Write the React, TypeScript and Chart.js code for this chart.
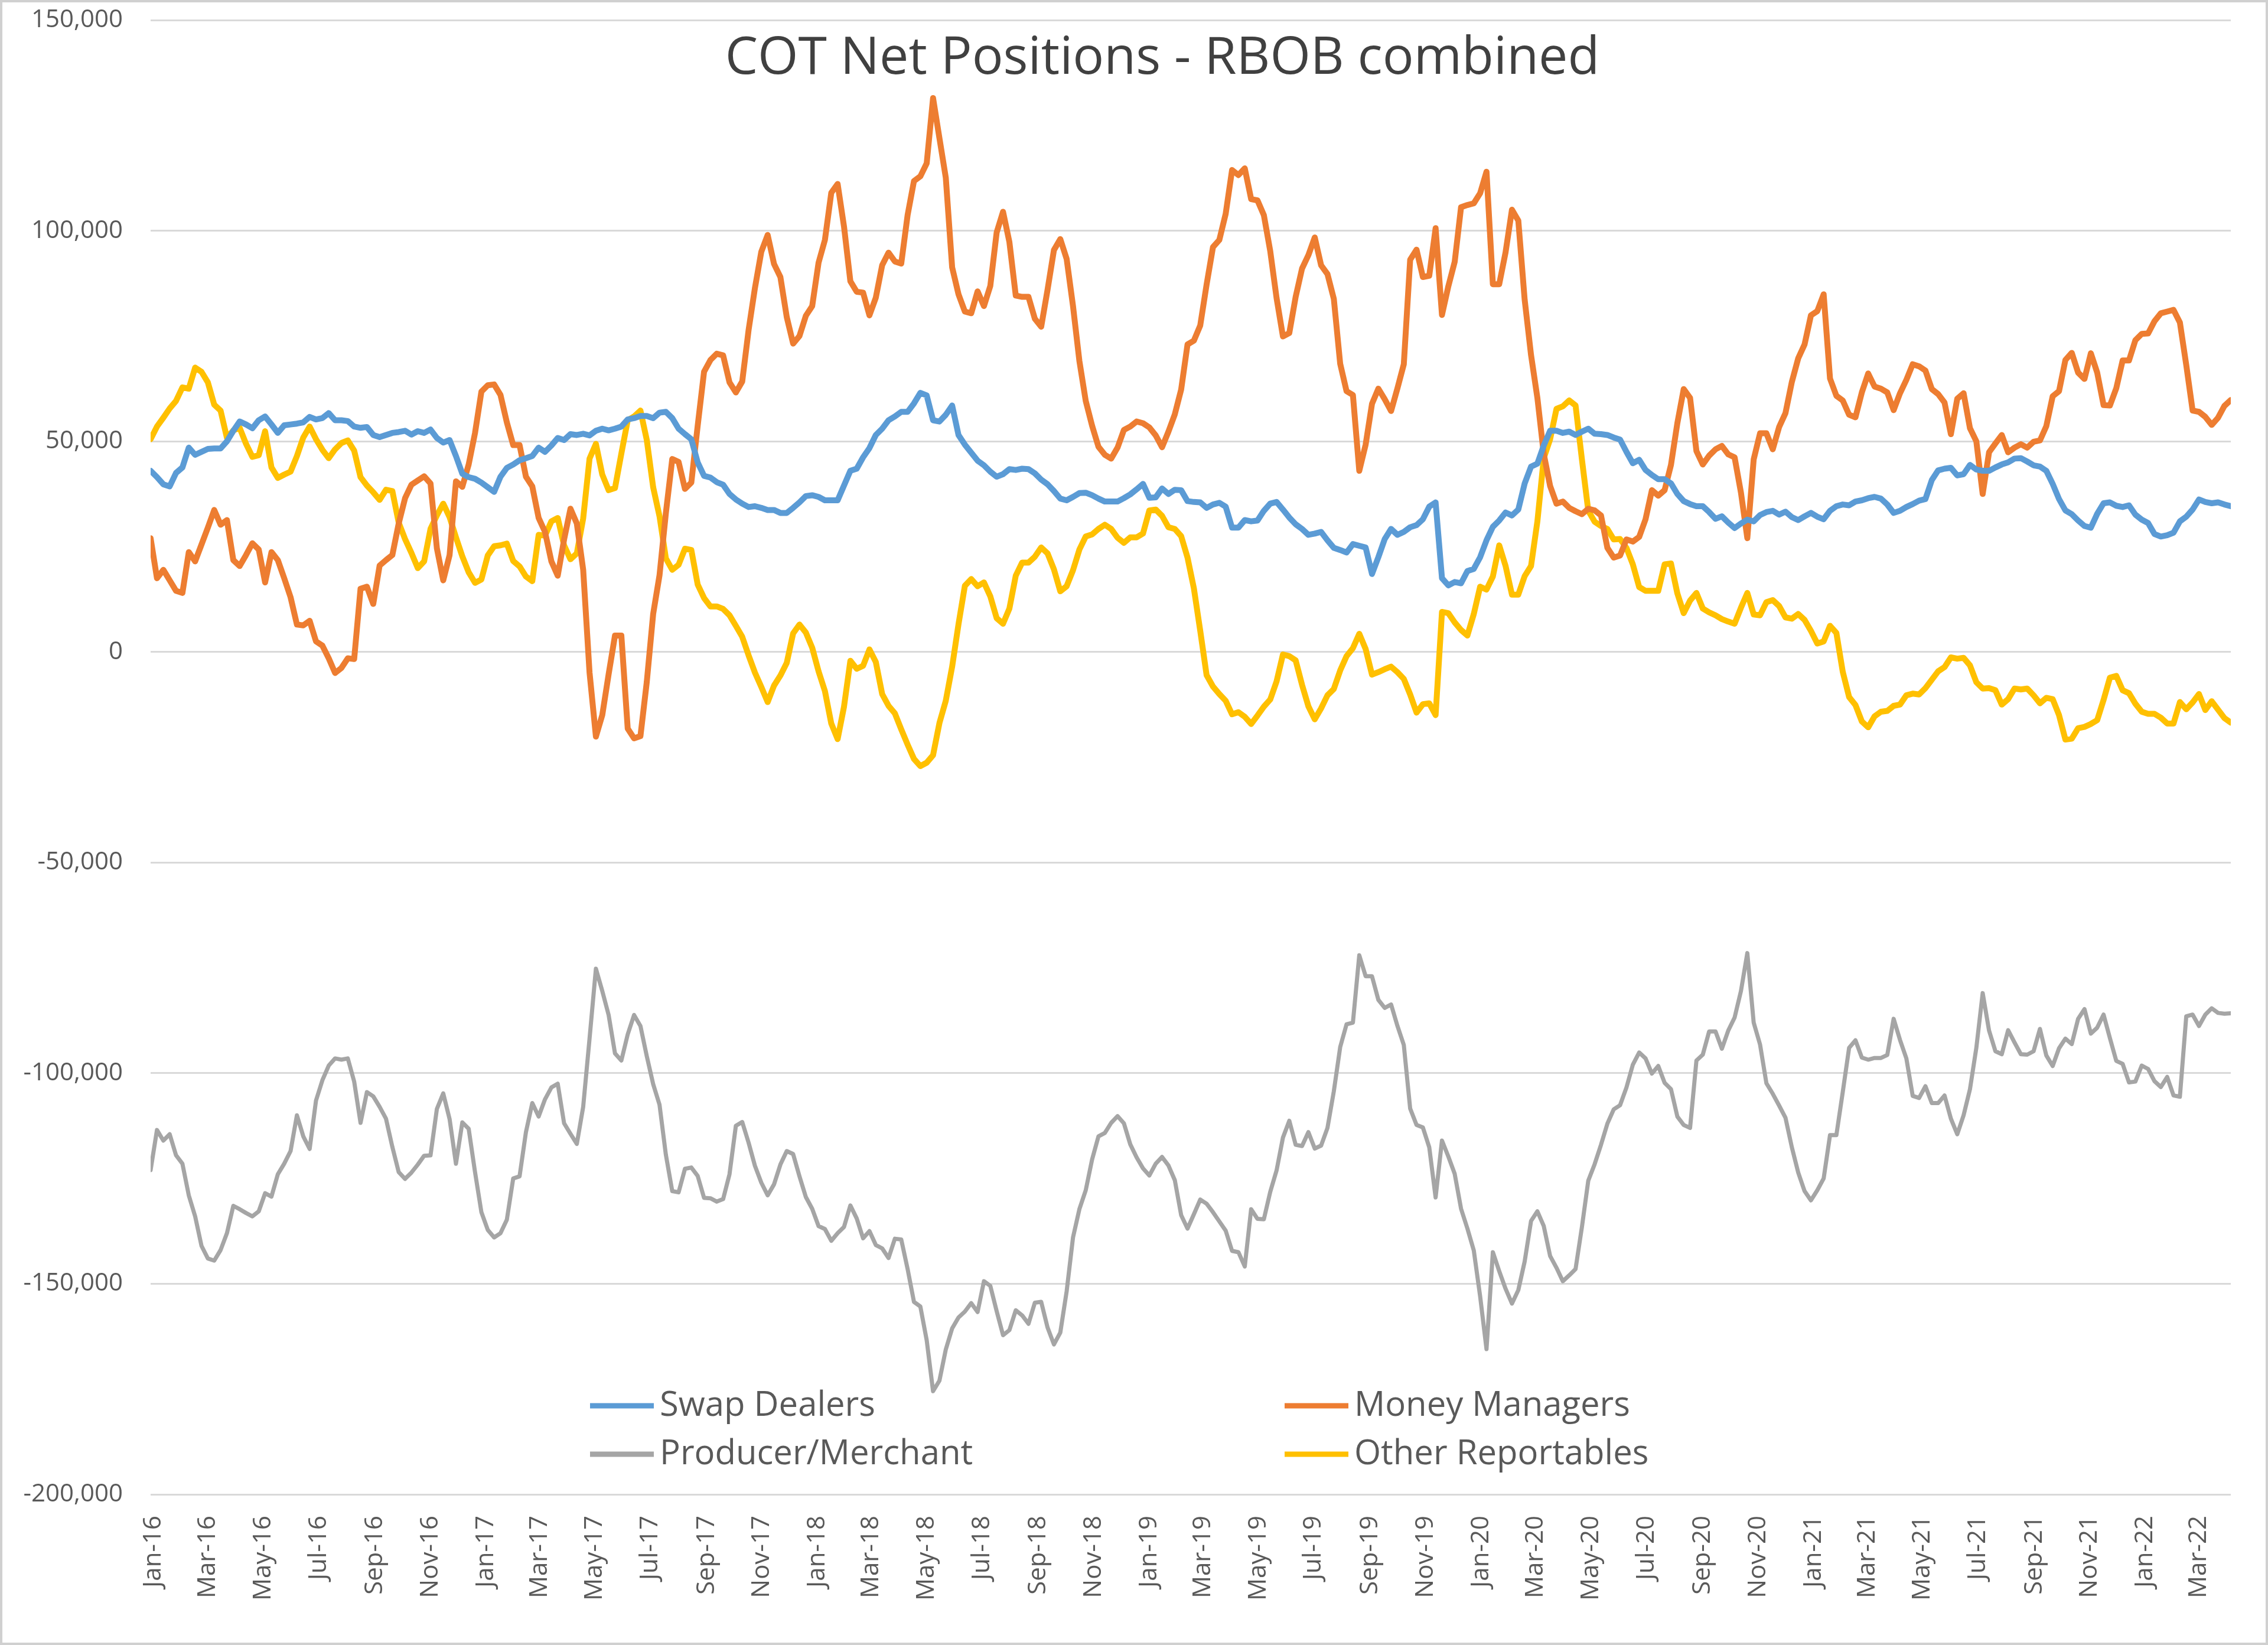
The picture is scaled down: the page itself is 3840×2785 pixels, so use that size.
import React, { useEffect, useRef } from "react";
import { Chart, registerables } from "chart.js";

Chart.register(...registerables);

const TITLE = "COT Net Positions - RBOB combined";
const FIRST_REPORT_UTC = Date.UTC(2015, 11, 29); // first weekly COT report in the series
const DAY_MS = 86400000;
const WEEK_DAYS = 7;
const K = 1000; // series below are in thousands of contracts

const SERIES_NAMES = ["Swap Dealers", "Money Managers", "Producer/Merchant", "Other Reportables"];
const SERIES_COLORS = ["#5B9BD5", "#ED7D31", "#A5A5A5", "#FFC000"];

const X_TICK_LABELS = [
  "Jan-16", "Mar-16", "May-16", "Jul-16", "Sep-16", "Nov-16",
  "Jan-17", "Mar-17", "May-17", "Jul-17", "Sep-17", "Nov-17",
  "Jan-18", "Mar-18", "May-18", "Jul-18", "Sep-18", "Nov-18",
  "Jan-19", "Mar-19", "May-19", "Jul-19", "Sep-19", "Nov-19",
  "Jan-20", "Mar-20", "May-20", "Jul-20", "Sep-20", "Nov-20",
  "Jan-21", "Mar-21", "May-21", "Jul-21", "Sep-21", "Nov-21",
  "Jan-22", "Mar-22",
];
const Y_MIN = -200000;
const Y_MAX = 150000;
const Y_STEP = 50000;

// weekly net positions (thousands of contracts)
const swapDealersK = [
  43, 41.5, 39.8, 39.3, 42.5, 43.8, 48.5, 46.8, 47.5, 48.2,
  48.3, 48.3, 50, 52.5, 54.7, 54, 53.1, 55, 55.9, 54,
  52, 53.8, 54, 54.2, 54.5, 55.8, 55.2, 55.5, 56.7, 55,
  55, 54.8, 53.5, 53.2, 53.4, 51.5, 51, 51.5, 52, 52.2,
  52.5, 51.6, 52.4, 52, 52.8, 50.8, 49.7, 50.3, 46.5, 42.3,
  41.5, 41.1, 40.2, 39.1, 38, 41.6, 43.7, 44.5, 45.5, 46,
  46.5, 48.5, 47.5, 49, 50.8, 50.3, 51.7, 51.5, 51.8, 51.4,
  52.5, 53, 52.6, 53, 53.5, 55.2, 55.5, 56, 56, 55.5,
  56.8, 57, 55.5, 53, 51.7, 50.5, 45, 41.8, 41.4, 40.3,
  39.7, 37.5, 36.2, 35.2, 34.4, 34.6, 34.2, 33.7, 33.7, 33,
  33, 34.2, 35.5, 37, 37.2, 36.8, 36, 36, 36, 39.5,
  43, 43.5, 46.2, 48.4, 51.5, 53, 55, 55.9, 57, 57,
  59, 61.5, 60.9, 55, 54.7, 56.3, 58.5, 51.5, 49.2, 47.3,
  45.4, 44.3, 42.8, 41.6, 42.2, 43.4, 43.2, 43.5, 43.4, 42.4,
  40.9, 39.8, 38.2, 36.4, 36, 36.8, 37.7, 37.8, 37.2, 36.4,
  35.7, 35.7, 35.7, 36.5, 37.4, 38.6, 39.9, 36.6, 36.7, 38.8,
  37.5, 38.5, 38.4, 35.8, 35.6, 35.5, 34.2, 35, 35.4, 34.5,
  29.5, 29.5, 31.3, 31, 31.2, 33.5, 35.2, 35.6, 33.8, 31.9,
  30.3, 29.2, 27.8, 28.1, 28.5, 26.5, 24.7, 24.2, 23.6, 25.6,
  25.2, 24.8, 18.5, 22.5, 26.8, 29.2, 27.8, 28.5, 29.6, 30.1,
  31.5, 34.5, 35.5, 17.5, 15.8, 16.6, 16.3, 19.2, 19.7, 22.5,
  26.5, 29.7, 31.2, 33.1, 32.4, 33.8, 40, 44, 44.7, 49,
  52.5, 52.5, 52, 52.3, 51.5, 52.3, 53, 51.8, 51.7, 51.5,
  50.9, 50.4, 47.5, 44.8, 45.6, 43.2, 42, 41, 41, 40,
  37.5, 35.8, 35.1, 34.6, 34.6, 33.2, 31.6, 32.2, 30.7, 29.4,
  30.5, 31.4, 31, 32.5, 33.2, 33.5, 32.6, 33.3, 32, 31.3,
  32.2, 33, 32.1, 31.5, 33.5, 34.6, 35, 34.8, 35.7, 36,
  36.5, 36.8, 36.4, 35, 33, 33.5, 34.4, 35.1, 35.9, 36.3,
  40.8, 43.1, 43.5, 43.7, 41.9, 42.2, 44.4, 43.3, 43, 43,
  43.8, 44.5, 45, 45.9, 46, 45.2, 44.3, 44, 43, 39.9,
  36.3, 33.6, 32.7, 31.2, 29.9, 29.5, 32.8, 35.3, 35.5, 34.7,
  34.4, 34.8, 32.6, 31.4, 30.6, 28, 27.4, 27.7, 28.3, 31,
  32.1, 33.8, 36.2, 35.6, 35.3, 35.5, 35, 34.6,
];

const moneyManagersK = [
  27, 17.5, 19.5, 17, 14.5, 14, 23.7, 21.5, 25.5, 29.5,
  33.7, 30.2, 31.3, 21.8, 20.4, 23, 25.8, 24.3, 16.5, 23.7,
  21.8, 17.5, 13, 6.5, 6.3, 7.4, 2.5, 1.5, -1.5, -5,
  -3.8, -1.5, -1.7, 15, 15.5, 11.4, 20.5, 21.8, 23, 30.5,
  36.5, 39.7, 40.7, 41.7, 40, 24.6, 17, 23, 40.5, 39.2,
  44.5, 52, 61.8, 63.3, 63.5, 61, 54.5, 49.1, 49.1, 41.6,
  39.3, 31.8, 28.5, 21.5, 18.1, 26.7, 34, 30.5, 19.5, -4.9,
  -20.1, -15, -5.3, 3.9, 3.9, -18.2, -20.5, -20, -7.1, 9,
  18.2, 33, 45.8, 45.1, 38.7, 40.2, 53.7, 66.5, 69.3, 70.8,
  70.4, 64, 61.6, 64.2, 76.4, 86.4, 95, 99, 92.1, 89,
  79.5, 73.2, 75, 79.8, 82.1, 92.4, 97.8, 109, 111.1, 101,
  88, 85.5, 85.3, 79.9, 84.1, 91.8, 94.8, 92.7, 92.2, 103.7,
  111.8, 112.9, 116, 131.5, 122, 112.6, 91.3, 84.9, 80.8, 80.4,
  85.6, 82.1, 86.9, 99.6, 104.5, 97.3, 84.6, 84.3, 84.3, 79.1,
  77.2, 86, 95.4, 98, 93.3, 82.1, 69.1, 59.6, 53.7, 48.7,
  46.8, 45.9, 48.5, 52.7, 53.5, 54.7, 54.3, 53.3, 51.4, 48.6,
  52.3, 56.4, 62.3, 73, 73.9, 77.5, 87.2, 96.1, 97.8, 104,
  114.4, 113.2, 114.8, 107.5, 107.2, 103.7, 95.2, 84, 74.9, 75.7,
  84.3, 91, 94.2, 98.4, 91.8, 89.7, 83.8, 68.4, 61.9, 61,
  43, 49.2, 58.9, 62.5, 60, 57.2, 62.6, 68.3, 93.1, 95.5,
  89, 89.3, 100.6, 80, 86.8, 92.6, 105.6, 106.1, 106.5, 108.9,
  114, 87.3, 87.3, 94.9, 105, 102.4, 83.6, 70.5, 60.3, 47,
  39.4, 35.2, 35.7, 34.2, 33.4, 32.7, 34, 33.6, 32.4, 24.7,
  22.4, 22.9, 26.7, 26.2, 27.3, 31.5, 38.4, 37.1, 38.4, 44.4,
  54.3, 62.4, 60.3, 47.7, 44.5, 46.6, 48.1, 48.9, 46.9, 46.2,
  37.8, 27, 45.7, 51.9, 51.9, 48.1, 53.4, 56.7, 64.1, 69.7,
  73, 79.9, 80.9, 84.9, 64.9, 60.8, 59.7, 56.3, 55.7, 61.6,
  66.1, 63, 62.5, 61.6, 57.4, 61.4, 64.6, 68.3, 67.8, 66.8,
  62.4, 61.2, 59.2, 51.7, 60.1, 61.4, 53.1, 50, 37.5, 47.4,
  49.5, 51.5, 47.4, 48.5, 49.3, 48.5, 49.9, 50.2, 53.6, 60.7,
  61.9, 69.3, 71, 66.3, 64.8, 70.9, 66.3, 58.6, 58.5, 62.6,
  69.2, 69.2, 74, 75.5, 75.6, 78.5, 80.4, 80.8, 81.2, 78.2,
  68.1, 57.3, 57, 55.8, 53.9, 55.6, 58.4, 59.8,
];

const producerMerchantK = [
  -123, -113.5, -116, -114.5, -119.5, -121.5, -129, -134, -141, -144,
  -144.5, -142, -138, -131.5, -132.3, -133.2, -134, -132.8, -128.5, -129.3,
  -124, -121.5, -118.5, -110, -115, -118, -106.5, -101.7, -98.2, -96.5,
  -96.8, -96.5, -102, -111.8, -104.5, -105.5, -108, -110.8, -117.5, -123.5,
  -125.1, -123.6, -121.7, -119.6, -119.5, -108.5, -104.8, -110.9, -121.5, -111.7,
  -113.2, -123.5, -133, -137.2, -139, -138, -134.8, -125, -124.5, -114,
  -107.1, -110.3, -106.2, -103.4, -102.5, -111.9, -114.4, -116.8, -108, -91.8,
  -75.2, -80.5, -86.2, -95.3, -97, -90.8, -86.2, -88.8, -96, -102.6,
  -107.5, -119.4, -128, -128.3, -122.7, -122.4, -124.4, -129.6, -129.7, -130.5,
  -129.9, -124, -112.5, -111.6, -116.5, -122, -126, -129, -126.4, -121.7,
  -118.5, -119.2, -124.5, -129.4, -132.2, -136.3, -137, -139.8, -138, -136.5,
  -131.4, -134.5, -139.2, -137.5, -140.8, -141.6, -143.9, -139.3, -139.5, -146.5,
  -154.3, -155.4, -163.4, -175.5, -173, -165.6, -160.6, -158, -156.6, -154.6,
  -156.7, -149.4, -150.5, -156.5, -162.2, -161, -156.3, -157.5, -159.5, -154.5,
  -154.3, -160.4, -164.4, -161.6, -151.8, -139, -132.3, -127.8, -120.5, -115,
  -114.2, -111.8, -110.2, -111.9, -116.9, -120, -122.6, -124.3, -121.5, -119.9,
  -121.9, -125.4, -133.7, -136.9, -133.5, -130, -131, -133, -135.2, -137.4,
  -142.2, -142.5, -145.9, -132.3, -134.6, -134.7, -128.2, -123.1, -115.3, -111.3,
  -117, -117.3, -114, -117.9, -117.2, -113, -104.3, -93.8, -88.4, -88,
  -72, -77, -77, -82.6, -84.5, -83.7, -88.8, -93.3, -108.4, -112.3,
  -112.9, -117.6, -129.5, -116, -119.8, -123.9, -132.2, -136.9, -142.1, -153,
  -165.5, -142.5, -147, -151.2, -154.7, -151.5, -144.7, -135.1, -132.8, -136.3,
  -143.4, -146.2, -149.4, -148, -146.5, -136.5, -125.5, -121.6, -117, -112,
  -108.6, -107.6, -103.4, -98, -95.1, -96.5, -100.1, -98.3, -102.3, -103.8,
  -110.3, -112.3, -113, -97, -95.6, -90.1, -90.1, -94.2, -89.9, -86.8,
  -80.5, -71.5, -88, -93.2, -102.4, -104.9, -107.7, -110.6, -117.6, -123.6,
  -128, -130.2, -127.8, -125, -114.7, -114.7, -104.5, -94, -92.2, -96.3,
  -96.8, -96.4, -96.4, -95.7, -87.1, -92.1, -96.5, -105.4, -105.9, -103.1,
  -107.1, -107.1, -105.3, -110.8, -114.5, -110, -103.8, -94, -81, -89.9,
  -94.8, -95.5, -89.8, -92.7, -95.5, -95.6, -94.8, -89.5, -95.8, -98.3,
  -94.1, -91.8, -93.1, -87.1, -84.8, -90.6, -89.2, -86.1, -91.7, -97.1,
  -97.8, -102.2, -102, -98.2, -99, -101.9, -103.3, -100.9, -105.3, -105.6,
  -86.5, -86.1, -88.8, -86.1, -84.6, -85.7, -85.9, -85.8,
];

const otherReportablesK = [
  50.5, 53.5, 55.6, 57.8, 59.6, 62.8, 62.5, 67.5, 66.5, 64,
  58.7, 57.3, 50.8, 52.6, 53.2, 49.4, 46.3, 46.7, 52.4, 43.8,
  41.3, 42.1, 42.8, 46.5, 50.9, 53.5, 50.5, 48, 46, 48.1,
  49.6, 50.2, 47.8, 41.5, 39.5, 37.9, 36.1, 38.5, 38.2, 30.7,
  26.8, 23.5, 19.9, 21.5, 29.2, 32.4, 35.2, 32, 27.2, 22.7,
  18.9, 16.4, 17.2, 22.9, 25.1, 25.3, 25.7, 21.6, 20.3, 17.9,
  16.8, 27.8, 27.6, 31, 31.8, 25.3, 22, 23.4, 31.7, 45.9,
  49.4, 42.1, 38.4, 38.9, 47.1, 55, 55.9, 57.3, 50.3, 39.1,
  32.2, 22.2, 19.5, 20.7, 24.5, 24.2, 16, 12.8, 10.8, 10.8,
  10.2, 8.7, 6.2, 3.6, -0.8, -4.9, -8.3, -11.9, -8, -5.6,
  -2.6, 4.4, 6.5, 4.6, 1, -4.6, -9.3, -17, -20.7, -13,
  -2.1, -4, -3.3, 0.6, -2.4, -10, -12.8, -14.6, -18.4, -22,
  -25.4, -27.1, -26.3, -24.5, -16.9, -11.6, -3.5, 6.6, 15.7, 17.3,
  15.6, 16.5, 13.2, 8, 6.7, 10.3, 18.1, 21.2, 21.2, 22.6,
  24.8, 23.4, 19.6, 14.4, 15.6, 19.4, 24.3, 27.4, 27.9, 29.2,
  30.2, 29.2, 27.1, 25.9, 27.2, 27.2, 28.1, 33.6, 33.8, 32.3,
  29.6, 29.2, 27.5, 22.4, 15.1, 5, -5.5, -8.2, -10, -11.6,
  -14.8, -14.3, -15.4, -17.1, -15.1, -13, -11.3, -7, -0.6, -1,
  -2, -7.8, -12.9, -16, -13.4, -10.3, -8.8, -4.4, -1, 0.9,
  4.3, 0.7, -5.4, -4.8, -4.1, -3.5, -4.8, -6.4, -10.1, -14.4,
  -12.4, -12.2, -15, 9.5, 9.2, 7, 5.2, 3.9, 9, 15.5,
  14.8, 17.9, 25.3, 20.4, 13.6, 13.6, 18, 20.4, 31, 46,
  50.5, 57.7, 58.3, 59.7, 58.5, 45.7, 33.5, 30.9, 29.9, 29.2,
  26.7, 26.8, 24.7, 20.8, 15.4, 14.5, 14.5, 14.5, 20.8, 21,
  13.9, 9.2, 12.2, 14, 10.3, 9.4, 8.7, 7.8, 7.2, 6.7,
  10.5, 14, 8.9, 8.7, 11.8, 12.3, 10.9, 8.2, 7.9, 9,
  7.6, 5, 2, 2.5, 6.2, 4.5, -4.7, -10.7, -12.6, -16.5,
  -17.9, -15.3, -14.2, -14, -12.8, -12.5, -10.3, -9.9, -10.1, -8.6,
  -6.6, -4.6, -3.6, -1.3, -1.6, -1.4, -3.2, -7.2, -8.7, -8.6,
  -9.1, -12.5, -11.2, -8.7, -8.9, -8.7, -10.3, -12.2, -10.9, -11.2,
  -15, -20.8, -20.6, -18.1, -17.8, -17.1, -16.2, -11.4, -6.1, -5.7,
  -9.1, -9.8, -12.3, -14.2, -14.7, -14.7, -15.6, -17, -17, -11.9,
  -13.6, -12, -10, -13.8, -11.7, -13.7, -15.7, -16.8,
];

const SERIES_VALUES_K = [swapDealersK, moneyManagersK, producerMerchantK, otherReportablesK];
const SERIES_WIDTHS = [10, 10, 7, 10];

const MONTHS = ["Jan", "Feb", "Mar", "Apr", "May", "Jun", "Jul", "Aug", "Sep", "Oct", "Nov", "Dec"];
const labelToDay = (label: string) => {
  const [mon, yy] = label.split("-");
  const t = Date.UTC(2000 + Number(yy), MONTHS.indexOf(mon), 1);
  return Math.round((t - FIRST_REPORT_UTC) / DAY_MS);
};
const X_TICK_DAYS = X_TICK_LABELS.map(labelToDay);

const FONT = '"Open Sans", "Noto Sans", sans-serif';
const TEXT_COLOR = "#595959";

// layout (canvas pixels)
const W = 3840;
const H = 2785;
const PLOT_LEFT = 255;
const PLOT_RIGHT = 3777;
const PLOT_TOP = 34;
const PLOT_BOTTOM = 2530;
const LEGEND_COL_X = [999, 2175];
const LEGEND_ROW_Y = [2380, 2462];
const LEGEND_SAMPLE = 108;

const overlayPlugin = {
  id: "overlay",
  beforeDraw(chart: any) {
    const ctx = chart.ctx;
    ctx.save();
    ctx.fillStyle = "#ffffff";
    ctx.fillRect(0, 0, chart.width, chart.height);
    ctx.restore();
  },
  afterDraw(chart: any) {
    const ctx = chart.ctx;
    ctx.save();
    ctx.strokeStyle = "#D0D0D0";
    ctx.lineWidth = 4;
    ctx.strokeRect(2, 2, chart.width - 4, chart.height - 4);

    ctx.font = `88px ${FONT}`;
    ctx.fillStyle = "#404040";
    ctx.textAlign = "center";
    ctx.textBaseline = "middle";
    ctx.fillText(TITLE, 1968, 100);

    ctx.font = `58px ${FONT}`;
    ctx.textAlign = "left";
    chart.data.datasets.forEach((ds: any, k: number) => {
      const x = LEGEND_COL_X[k % 2];
      const y = LEGEND_ROW_Y[Math.floor(k / 2)];
      ctx.strokeStyle = ds.borderColor;
      ctx.lineWidth = 9;
      ctx.lineCap = "butt";
      ctx.beginPath();
      ctx.moveTo(x, y);
      ctx.lineTo(x + LEGEND_SAMPLE, y);
      ctx.stroke();
      ctx.fillStyle = TEXT_COLOR;
      ctx.fillText(ds.label, x + LEGEND_SAMPLE + 10, y);
    });
    ctx.restore();
  },
};

export default function App() {
  const canvasRef = useRef<HTMLCanvasElement | null>(null);

  useEffect(() => {
    const canvas = canvasRef.current;
    if (!canvas) return;
    const datasets = SERIES_NAMES.map((name, s) => ({
      label: name,
      data: SERIES_VALUES_K[s].map((v, i) => ({ x: i * WEEK_DAYS, y: v * K })),
      borderColor: SERIES_COLORS[s],
      backgroundColor: SERIES_COLORS[s],
      borderWidth: SERIES_WIDTHS[s],
      pointRadius: 0,
      pointHoverRadius: 0,
      tension: 0,
      borderJoinStyle: "round" as const,
      borderCapStyle: "round" as const,
      fill: false,
    }));
    const lastDay = (swapDealersK.length - 1) * WEEK_DAYS;

    const chart = new Chart(canvas, {
      type: "line",
      data: { datasets },
      options: {
        animation: false,
        responsive: false,
        devicePixelRatio: 1,
        parsing: false,
        normalized: true,
        layout: { padding: { left: 0, top: 0, right: W - PLOT_RIGHT, bottom: 0 } },
        plugins: {
          legend: { display: false },
          title: { display: false },
          tooltip: { enabled: false },
        },
        scales: {
          x: {
            type: "linear",
            min: 0,
            max: lastDay,
            grid: { display: false },
            border: { display: false },
            afterBuildTicks: (scale: any) => {
              scale.ticks = X_TICK_DAYS.map((d) => ({ value: d }));
            },
            afterFit: (scale: any) => {
              scale.height = H - PLOT_BOTTOM;
              scale.paddingLeft = 0;
              scale.paddingRight = 0;
            },
            ticks: {
              autoSkip: false,
              minRotation: 90,
              maxRotation: 90,
              padding: 28,
              color: TEXT_COLOR,
              font: { family: FONT, size: 42 },
              callback: (value: any) => {
                const idx = X_TICK_DAYS.indexOf(Number(value));
                return idx >= 0 ? X_TICK_LABELS[idx] : "";
              },
            },
          },
          y: {
            type: "linear",
            min: Y_MIN,
            max: Y_MAX,
            grid: { color: "#D9D9D9", lineWidth: 3, drawTicks: false },
            border: { display: false },
            afterFit: (scale: any) => {
              scale.width = PLOT_LEFT;
              scale.paddingTop = PLOT_TOP;
              scale.paddingBottom = 0;
            },
            ticks: {
              stepSize: Y_STEP,
              padding: 47,
              color: TEXT_COLOR,
              font: { family: FONT, size: 42 },
              callback: (value: any) => Number(value).toLocaleString("en-US"),
            },
          },
        },
      },
      plugins: [overlayPlugin],
    });
    return () => chart.destroy();
  }, []);

  return (
    <div style={{ position: "absolute", left: 0, top: 0, width: W, height: H, background: "#fff" }}>
      <canvas ref={canvasRef} width={W} height={H} style={{ display: "block", width: W, height: H }} />
    </div>
  );
}
